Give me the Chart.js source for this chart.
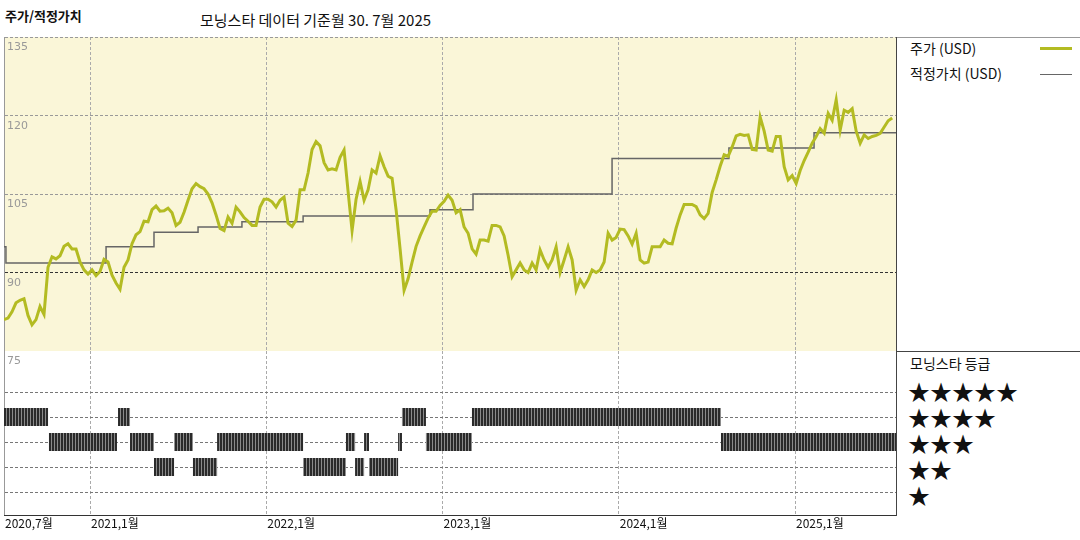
<!DOCTYPE html>
<html><head><meta charset="utf-8">
<script src="https://cdn.jsdelivr.net/npm/chart.js@4"></script>
<style>
body{margin:0;width:1080px;height:540px;background:#fff;font-family:"Noto Sans CJK KR","DejaVu Sans",sans-serif;position:relative;overflow:hidden}
.t{position:absolute;white-space:nowrap;color:#111}
#c1{position:absolute;left:4px;top:37px}
#c2{position:absolute;left:4px;top:351px}
.ln{position:absolute;background:#444}
</style></head><body>
<div class="t" style="left:5px;top:6px;font-size:13px;font-weight:bold">주가/적정가치</div>
<div class="t" style="left:200px;top:9px;font-size:15px">모닝스타 데이터 기준월 30. 7월 2025</div>
<div class="ln" style="left:896px;top:37px;width:184px;height:1px;background:#999"></div>
<div class="ln" style="left:896px;top:351px;width:184px;height:1px"></div>
<div class="ln" style="left:896px;top:37px;width:1px;height:479px"></div>
<div class="t" style="left:910px;top:38px;font-size:14px">주가 (USD)</div>
<div class="ln" style="left:1040px;top:47px;width:32px;height:3px;background:#b3bb22"></div>
<div class="t" style="left:910px;top:63px;font-size:14px">적정가치 (USD)</div>
<div class="ln" style="left:1040px;top:74px;width:32px;height:1px;background:#666"></div>
<div class="t" style="left:910px;top:353px;font-size:14px">모닝스타 등급</div>
<div class="t" style="left:908px;top:377px;font-size:22px;line-height:26px">★★★★★<br>★★★★<br>★★★<br>★★<br>★</div>
<canvas id="c1" width="892" height="314"></canvas>
<canvas id="c2" width="892" height="184"></canvas>
<script>
// weekly closes, first week of July 2020 onward
const priceStart = 2020.512;
const priceStep = 0.0227;
const priceValues = [81,81.3,82.5,84.2,84.7,85,81.8,80,81,83.5,82,91,93,92.6,93.2,95,95.5,94.5,94.5,92,90.5,89.7,90.5,89.4,90.2,92.5,92,89.5,88,86.8,91,92.4,95.5,97.2,97.8,99.8,99.7,102,102.7,101.7,101.8,102.3,101.4,99,99.6,101.5,103.8,106,107,106.4,106,105,103.3,101,98.4,98,100.6,99.4,102.5,101.6,100.5,99.8,99,99,102.5,104,104,103.5,102.5,103.8,104.4,99.4,98.8,100,
105.8,105.8,109,113.5,115,114.2,111,109.6,109.8,109.6,112,113.4,105.5,98,104,107.4,103.8,105.8,109.6,109,112.3,110.2,108.4,108,102,94.5,86.6,88.8,92,95,97,98.7,100.4,101.7,101.7,102.8,103.6,104.8,103.8,101.4,102,98.7,97.5,94.5,93.5,96.2,96.2,96,99,99,98.7,97,93.3,89.2,90.5,91.8,90.5,90,91.8,90.5,94.3,92.4,91,92.4,94.9,90,92.4,94.9,92.4,86.6,88.6,87.3,88.6,90.5,90,90.5,92,
97.5,96.2,96.7,98.3,98.2,97,95.4,97.5,92.4,91.8,92,94.9,94.9,94.9,96.2,95.6,95.5,98.5,101,103,103,103,102.6,101,100.3,101.3,105.3,107.7,110.3,112.5,112.2,114,116.1,116.4,116.2,116.3,113.5,113.4,119.7,117,113.4,113.2,116,116,110.2,107.7,108.5,107,109.5,111.4,113,114.7,116,117.5,116.6,120.4,119.1,123,117.2,121,120.6,121.3,117,114.7,116.3,115.6,116,116.2,116.6,117.8,119,119.5];

const fairDates = [2020.512,2020.523,2021.091,2021.363,2021.613,2021.862,2022.209,2022.929,2023.173,2023.962,2024.625,2025.108,2025.573];
const fairValues = [94.9,91.8,94.9,97.7,98.7,99.7,100.8,102,105,111.8,113.8,116.7,116.7];

const ratingStart = [2020.512,2021.159,2022.770,2023.167, 2020.767,2021.227,2021.477,2021.721,2022.452,2022.555,2022.748,2022.906,2024.580, 2021.363,2021.584,2022.209,2022.504,2022.583];
const ratingEnd   = [2020.762,2021.227,2022.906,2024.580, 2021.153,2021.363,2021.584,2022.209,2022.504,2022.583,2022.770,2023.167,2025.573, 2021.477,2021.721,2022.452,2022.555,2022.748];
const ratingStars = [4,4,4,4, 3,3,3,3,3,3,3,3,3, 2,2,2,2,2];

const xTicks = [2020.512,2021,2022,2023,2024,2025];
const xLabels = ['2020,7월','2021,1월','2022,1월','2023,1월','2024,1월','2025,1월'];
const yTicks = [135,120,105,90];

const xMin = 2020.512, xMax = 2025.573;
const pricePts = priceValues.map((v, i) => ({x: priceStart + i * priceStep, y: v}));
const fairPts = fairValues.map((v, i) => ({x: fairDates[i], y: v}));

const bgPlugin = {
  id: 'bg',
  beforeDraw(chart, a, o) {
    const {ctx, chartArea: c} = chart;
    ctx.save(); ctx.fillStyle = o.color; ctx.fillRect(c.left, c.top, c.width, c.height); ctx.restore();
  },
  afterDraw(chart, a, o) {
    const {ctx, chartArea: c} = chart;
    ctx.save();
    ctx.font = '11px "DejaVu Sans"'; ctx.fillStyle = '#999'; ctx.textBaseline = 'top';
    (o.yLabels || []).forEach(v => {
      const y = chart.scales.y.getPixelForValue(v);
      ctx.fillText(String(v), c.left + 3, Math.max(y, c.top) + 5);
    });
    if (o.xLabels) {
      ctx.fillStyle = '#111'; ctx.font = '12px "Noto Sans CJK KR"';
      xTicks.forEach((t, i) => ctx.fillText(xLabels[i], chart.scales.x.getPixelForValue(t) + 1, c.bottom + 2));
      ctx.fillStyle = '#333'; ctx.fillRect(c.left, c.bottom, c.width, 1);
    }
    ctx.restore();
  }
};

const vGrid = {
  display: true,
  color: ctx => ctx.tick && ctx.tick.value === xMin ? '#777' : '#aaa',
  drawTicks: false, lineWidth: 1
};

new Chart(document.getElementById('c1'), {
  type: 'line',
  data: { datasets: [
    {data: pricePts, borderColor: '#b3bb22', borderWidth: 3, pointRadius: 0, tension: 0},
    {data: fairPts, borderColor: '#666', borderWidth: 1.5, pointRadius: 0, stepped: true}
  ]},
  options: {
    responsive: false, animation: false,
    layout: {padding: 0},
    plugins: {legend: {display: false}, tooltip: {enabled: false}, bg: {color: '#faf6d8', yLabels: yTicks}},
    scales: {
      x: {type: 'linear', min: xMin, max: xMax, ticks: {display: false},
          afterBuildTicks: s => { s.ticks = xTicks.map(v => ({value: v})); },
          grid: vGrid, border: {display: true, color: '#999', dash: [3, 2]}},
      y: {min: 75, max: 135, ticks: {display: false},
          afterBuildTicks: s => { s.ticks = [75, 90, 105, 120, 135].map(v => ({value: v})); },
          grid: {drawTicks: false, color: c => c.tick && c.tick.value === 90 ? '#333' : '#999'},
          border: {display: true, color: '#999', dash: [3, 2]}}
    }
  },
  plugins: [bgPlugin]
});

// rating rows as thick line segments, separated by gaps
const stripe = document.createElement('canvas');
stripe.width = 3; stripe.height = 1;
const sctx = stripe.getContext('2d');
sctx.fillStyle = '#2a2a2a'; sctx.fillRect(0, 0, 3, 1);
sctx.fillStyle = '#8a8a8a'; sctx.fillRect(2, 0, 1, 1);
const pattern = sctx.createPattern(stripe, 'repeat');

const ratingPts = [];
ratingStart.forEach((s, i) => {
  ratingPts.push({x: s, y: ratingStars[i]}, {x: ratingEnd[i], y: ratingStars[i]}, {x: ratingEnd[i], y: null});
});

new Chart(document.getElementById('c2'), {
  type: 'line',
  data: { datasets: [
    {data: ratingPts, borderColor: pattern, borderWidth: 18, borderCapStyle: 'butt', pointRadius: 0, spanGaps: false}
  ]},
  options: {
    responsive: false, animation: false,
    layout: {padding: {bottom: 20}},
    plugins: {legend: {display: false}, tooltip: {enabled: false}, bg: {color: '#fff', yLabels: [75], xLabels: true}},
    scales: {
      x: {type: 'linear', min: xMin, max: xMax, ticks: {display: false},
          afterBuildTicks: s => { s.ticks = xTicks.map(v => ({value: v})); },
          grid: vGrid, border: {display: true, color: '#999', dash: [3, 2]}},
      y: {min: 0.08, max: 6.64, ticks: {display: false},
          afterBuildTicks: s => { s.ticks = [1, 2, 3, 4, 5].map(v => ({value: v})); },
          grid: {drawTicks: false, color: '#777'},
          border: {display: true, color: '#999', dash: [3, 2]}}
    }
  },
  plugins: [bgPlugin]
});
</script>
</body></html>
